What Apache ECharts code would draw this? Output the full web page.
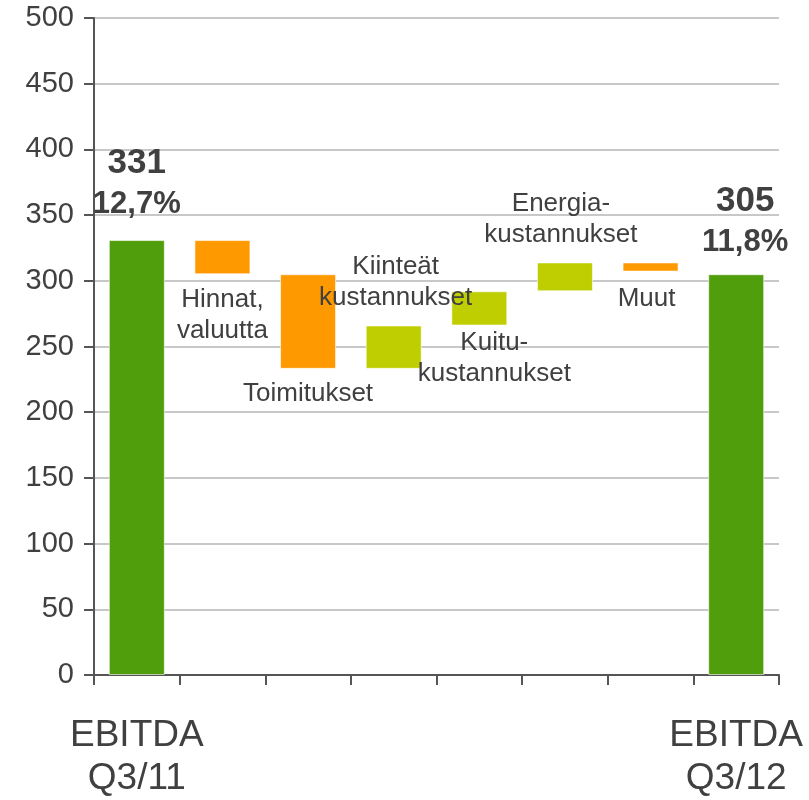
<!DOCTYPE html>
<html>
<head>
<meta charset="utf-8">
<script src="https://cdn.jsdelivr.net/npm/echarts@6/dist/echarts.min.js"></script>
<style>
  html, body { margin: 0; padding: 0; background: #fff; }
  #chart { width: 809px; height: 800px; }
</style>
</head>
<body>
<div id="chart"></div>
<script>
/* EBITDA-siltakaavio Q3/11 -> Q3/12 (waterfall, pinottu pylväs) */

// ---- data ----
var categories = ["EBITDA\nQ3/11", "", "", "", "", "", "", "EBITDA\nQ3/12"];
var stepNames  = ["", "Hinnat,\nvaluutta", "Toimitukset", "Kiinteät\nkustannukset",
                  "Kuitu-\nkustannukset", "Energia-\nkustannukset", "Muut", ""];
var stepFrom   = [0,   331, 305, 233, 266, 292, 314, 0];
var stepTo     = [331, 305, 233, 266, 292, 314, 307, 305];
var totalValue = ["331", "", "", "", "", "", "", "305"];
var marginPct  = ["12,7%", "", "", "", "", "", "", "11,8%"];
var yTicks     = { min: 0, max: 500, interval: 50 };

// ---- styles ----
var C_TOTAL = "#519E0C", C_DOWN = "#FF9900", C_UP = "#BFCE00";
var TXT = "#404040";
var FONT = "Liberation Sans, Arial, sans-serif";

// label placement per step: [position, distance, offsetX]
var labelPlace = [
  ["top", 15, 0], ["bottom", 10, 0], ["bottom", 9, 0], ["top", 12, 2],
  ["bottom", 2, 15], ["top", 12, -4], ["bottom", 12, -4], ["top", 11, 9]
];

var chart = echarts.init(document.getElementById("chart"), null, { renderer: "canvas" });

var baseData = [], barData = [];
for (var i = 0; i < categories.length; i++) {
  var lo = Math.min(stepFrom[i], stepTo[i]);
  var hi = Math.max(stepFrom[i], stepTo[i]);
  var isTotal = totalValue[i] !== "";
  var color = isTotal ? C_TOTAL : (stepTo[i] < stepFrom[i] ? C_DOWN : C_UP);
  var p = labelPlace[i];
  var text = isTotal ? "{a|" + totalValue[i] + "}\n{b|" + marginPct[i] + "}" : stepNames[i];
  baseData.push(lo);
  barData.push({
    value: hi - lo,
    itemStyle: { color: color },
    label: {
      show: true,
      position: p[0],
      distance: p[1],
      offset: [p[2], 0],
      formatter: text
    }
  });
}

chart.setOption({
  animation: false,
  textStyle: { fontFamily: FONT },
  grid: { left: 94, right: 30, top: 18, bottom: 119, containLabel: false },
  xAxis: {
    type: "category",
    data: categories,
    boundaryGap: true,
    axisLine: { show: true, lineStyle: { color: "#555", width: 2 } },
    axisTick: { show: true, alignWithLabel: false, length: 10, lineStyle: { color: "#555", width: 2 } },
    axisLabel: {
      interval: 0, color: TXT, fontSize: 37, lineHeight: 43, margin: 39, fontFamily: FONT
    },
    splitLine: { show: false }
  },
  yAxis: {
    type: "value",
    min: yTicks.min, max: yTicks.max, interval: yTicks.interval,
    axisLine: { show: true, lineStyle: { color: "#555", width: 2 } },
    axisTick: { show: true, length: 10, lineStyle: { color: "#555", width: 2 } },
    axisLabel: { color: TXT, fontSize: 29, margin: 20, fontFamily: FONT },
    splitLine: { show: true, lineStyle: { color: "#c8c8c8", width: 2 } }
  },
  series: [
    {
      name: "base",
      type: "bar",
      stack: "wf",
      barWidth: 56,
      silent: true,
      itemStyle: { color: "transparent" },
      data: baseData
    },
    {
      name: "step",
      type: "bar",
      stack: "wf",
      barWidth: 56,
      itemStyle: { borderColor: "rgba(255,255,255,0.6)", borderWidth: 1 },
      label: {
        color: TXT,
        fontSize: 26,
        lineHeight: 31,
        fontFamily: FONT,
        rich: {
          a: { fontSize: 35, fontWeight: "bold", lineHeight: 41, color: TXT, fontFamily: FONT },
          b: { fontSize: 31, fontWeight: "bold", lineHeight: 41, color: TXT, fontFamily: FONT }
        }
      },
      data: barData
    }
  ]
});
</script>
</body>
</html>
